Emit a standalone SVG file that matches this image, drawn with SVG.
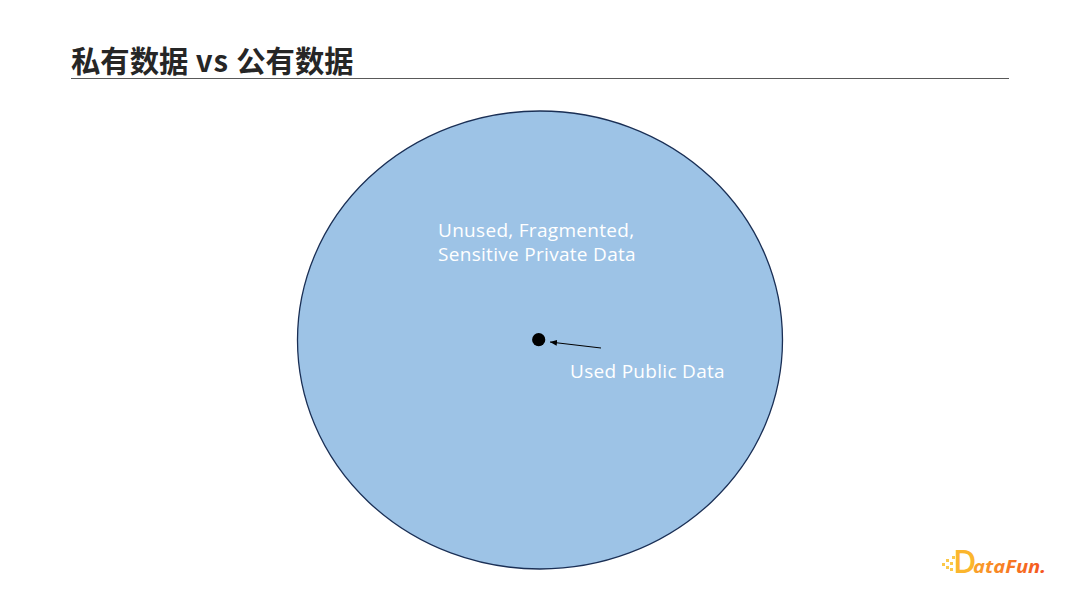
<svg xmlns="http://www.w3.org/2000/svg" width="1080" height="608" viewBox="0 0 1080 608">
<defs>
<marker id="ah" markerUnits="userSpaceOnUse" markerWidth="8" markerHeight="7" refX="7" refY="3" orient="auto"><path d="M0,0 L7,3 L0,6 Z" fill="#000"/></marker>
<linearGradient id="lg" gradientUnits="userSpaceOnUse" x1="955" x2="1046" y1="0" y2="0"><stop offset="0" stop-color="#fbb62d"/><stop offset="1" stop-color="#f4511e"/></linearGradient>
</defs>
<style>
.t{font-family:"Open Sans","Noto Sans","Noto Sans CJK SC",sans-serif;}
.w{font-size:19px;fill:#fff;font-weight:500;letter-spacing:.3px;}
</style>
<rect width="1080" height="608" fill="#fff"/>
<g id="title">
<text x="71" y="71.500" font-size="29.330" font-weight="700" fill="#262626" style="font-family:'Noto Sans CJK SC','Noto Sans',sans-serif">私有数据<tspan letter-spacing=".8"> vs </tspan>公有数据</text>
<line x1="71" y1="78.500" x2="1009" y2="78.500" stroke="#595959" stroke-width="1"/>
</g>
<g id="private-data">
<ellipse cx="540" cy="340" rx="242.500" ry="229" fill="#9dc3e6" stroke="#1a2f55" stroke-width="1.300"/>
<text class="t w" x="438" y="236.500">Unused, Fragmented,</text>
<text class="t w" x="438" y="261">Sensitive Private Data</text>
</g>
<g id="public-data">
<circle cx="538.700" cy="339.700" r="6.600" fill="#000"/>
<text class="t w" x="570" y="378">Used Public Data</text>
</g>
<g id="connectors">
<line x1="601" y1="348" x2="550" y2="342" stroke="#000" stroke-width="1" marker-end="url(#ah)"/>
</g>
<g id="logo">
<g fill="#fbc84a"><rect x="942" y="563" width="3" height="3"/><rect x="946" y="559" width="3" height="3"/><rect x="946" y="566" width="3" height="3"/><rect x="950" y="562" width="3" height="3"/><rect x="950" y="568" width="3" height="3"/><rect x="952" y="556" width="3" height="3"/></g>
<text x="953" y="573" font-size="32" font-weight="600" fill="#fbb62d" style="font-family:'Open Sans',sans-serif">D</text>
<text x="973" y="573" font-size="18" font-weight="700" font-style="italic" fill="url(#lg)" style="font-family:'Open Sans',sans-serif" textLength="73" lengthAdjust="spacingAndGlyphs">ataFun.</text>
</g>
</svg>
